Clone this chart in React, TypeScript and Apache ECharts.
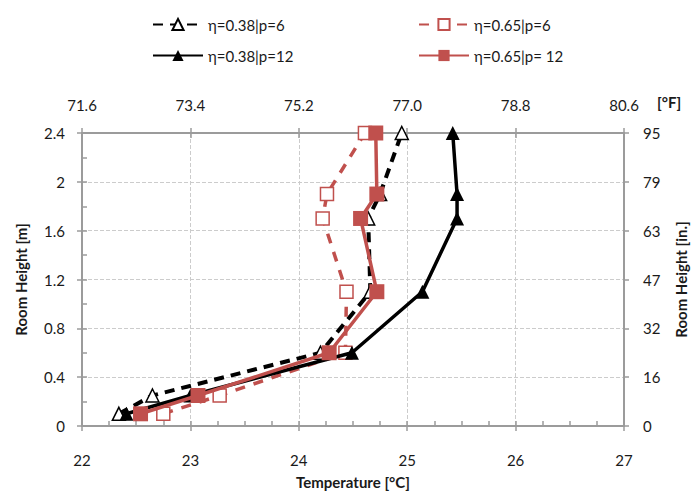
import React, { useEffect, useRef } from "react";
import * as echarts from "echarts";

const heights = [0.1, 0.25, 0.6, 1.1, 1.7, 1.9, 2.4];
const t038p6 = [22.34, 22.65, 24.2, 24.66, 24.64, 24.75, 24.95];
const t065p6 = [22.75, 23.27, 24.43, 24.44, 24.22, 24.26, 24.61];
const t038p12 = [22.41, 23.0, 24.49, 25.14, 25.46, 25.46, 25.42];
const t065p12 = [22.54, 23.07, 24.28, 24.72, 24.57, 24.72, 24.71];

const seriesNames = ["η=0.38|p=6", "η=0.65|p=6", "η=0.38|p=12", "η=0.65|p= 12"];
const topLabels = ["71.6", "73.4", "75.2", "77.0", "78.8", "80.6"]; // °F for 22..27 °C
const rightLabels = ["0", "16", "32", "47", "63", "79", "95"]; // inches for 0..2.4 m

const RED = "#C0504D";
const AXIS = "#9b9b9b";
const GRID = "#cccccc";
const TXT = "#1a1a1a";
const FONT = "Lato, 'Noto Sans', sans-serif";

const pairs = (xs: number[]) => xs.map((x, i) => [x, heights[i]]);

export default function App() {
  const ref = useRef<HTMLDivElement>(null);
  useEffect(() => {
    if (!ref.current) return;
    const chart = echarts.init(ref.current, null, { renderer: "svg" });
    const labelStyle = { color: TXT, fontSize: 15, fontFamily: FONT };
    const nameStyle = { color: TXT, fontSize: 15, fontFamily: FONT, fontWeight: "bold" as const };
    const tickStyle = { color: AXIS, width: 1.5 };
    const baseX = { type: "value" as const, min: 22, max: 27, interval: 1 };
    const baseY = { type: "value" as const, min: 0, max: 2.4, interval: 0.4 };
    chart.setOption({
      animation: false,
      backgroundColor: "#fff",
      textStyle: { fontFamily: FONT },
      grid: {
        left: 82,
        right: 67,
        top: 133,
        bottom: 68,
        containLabel: false,
        outerBoundsMode: "none",
      },
      legend: [
        {
          data: [seriesNames[0], seriesNames[2]],
          orient: "vertical",
          left: 147,
          top: 12,
          itemWidth: 50,
          itemHeight: 14,
          itemGap: 16,
          textStyle: { color: TXT, fontSize: 15, fontFamily: FONT },
        },
        {
          data: [seriesNames[1], seriesNames[3]],
          orient: "vertical",
          left: 413,
          top: 12,
          itemWidth: 50,
          itemHeight: 14,
          itemGap: 16,
          textStyle: { color: TXT, fontSize: 15, fontFamily: FONT },
        },
      ],
      xAxis: [
        {
          ...baseX,
          position: "bottom",
          axisLine: { show: true, onZero: false, lineStyle: { color: AXIS, width: 2 } },
          axisTick: { show: true, inside: false, length: 5, lineStyle: tickStyle },
          axisLabel: { ...labelStyle, margin: 26 },
          splitLine: { show: true, lineStyle: { color: GRID, type: "dashed", width: 1 } },
          name: "Temperature [°C]",
          nameLocation: "middle",
          nameGap: 48,
          nameTextStyle: nameStyle,
        },
        {
          ...baseX,
          position: "bottom",
          axisLine: { show: false, onZero: false },
          axisTick: { show: true, inside: true, length: 5, lineStyle: tickStyle },
          minorTick: { show: true, splitNumber: 4, length: 5, lineStyle: tickStyle },
          axisLabel: { show: false },
          splitLine: { show: false },
        },
        {
          ...baseX,
          position: "top",
          axisLine: { show: true, onZero: false, lineStyle: { color: AXIS, width: 2 } },
          axisTick: { show: true, inside: false, length: 5, lineStyle: tickStyle },
          axisLabel: {
            ...labelStyle,
            margin: 21,
            formatter: (v: number) => topLabels[Math.round(v - 22)] ?? "",
          },
          splitLine: { show: false },
        },
        {
          ...baseX,
          position: "top",
          axisLine: { show: false, onZero: false },
          axisTick: { show: true, inside: true, length: 5, lineStyle: tickStyle },
          axisLabel: { show: false },
          splitLine: { show: false },
        },
      ],
      yAxis: [
        {
          ...baseY,
          position: "left",
          axisLine: { show: true, onZero: false, lineStyle: { color: AXIS, width: 2 } },
          axisTick: { show: true, inside: false, length: 5, lineStyle: tickStyle },
          axisLabel: { ...labelStyle, margin: 17 },
          splitLine: { show: true, lineStyle: { color: GRID, type: "dashed", width: 1 } },
          name: "Room Height [m]",
          nameLocation: "middle",
          nameRotate: 90,
          nameGap: 54,
          nameTextStyle: nameStyle,
        },
        {
          ...baseY,
          position: "left",
          axisLine: { show: false, onZero: false },
          axisTick: { show: true, inside: true, length: 5, lineStyle: tickStyle },
          minorTick: { show: true, splitNumber: 2, length: 5, lineStyle: tickStyle },
          axisLabel: { show: false },
          splitLine: { show: false },
        },
        {
          ...baseY,
          position: "right",
          axisLine: { show: true, onZero: false, lineStyle: { color: AXIS, width: 2 } },
          axisTick: { show: true, inside: false, length: 5, lineStyle: tickStyle },
          axisLabel: {
            ...labelStyle,
            margin: 19,
            formatter: (v: number) => rightLabels[Math.round(v / 0.4)] ?? "",
          },
          splitLine: { show: false },
          name: "Room Height [in.]",
          nameLocation: "middle",
          nameRotate: 90,
          nameGap: 49,
          nameTextStyle: nameStyle,
        },
      ],
      graphic: [
        {
          type: "text",
          left: 657,
          top: 94,
          style: { text: "[°F]", fill: TXT, font: `bold 15px ${FONT}` },
        },
      ],
      series: [
        {
          name: seriesNames[0],
          type: "line",
          data: pairs(t038p6),
          symbol: "triangle",
          symbolSize: 13,
          lineStyle: { color: "#000", width: 4, type: [10, 7] },
          itemStyle: { color: "#fff", borderColor: "#000", borderWidth: 1.5 },
          z: 2,
        },
        {
          name: seriesNames[1],
          type: "line",
          data: pairs(t065p6),
          symbol: "rect",
          symbolSize: 13,
          lineStyle: { color: RED, width: 3.5, type: [10, 9] },
          itemStyle: { color: "#fff", borderColor: RED, borderWidth: 1.5 },
          z: 3,
        },
        {
          name: seriesNames[2],
          type: "line",
          data: pairs(t038p12),
          symbol: "triangle",
          symbolSize: 14,
          lineStyle: { color: "#000", width: 3.5 },
          itemStyle: { color: "#000" },
          z: 4,
        },
        {
          name: seriesNames[3],
          type: "line",
          data: pairs(t065p12),
          symbol: "rect",
          symbolSize: 15,
          lineStyle: { color: RED, width: 3.5 },
          itemStyle: { color: RED },
          z: 5,
        },
      ],
    });
    return () => chart.dispose();
  }, []);
  return <div ref={ref} style={{ width: 691, height: 494, position: "absolute", left: 0, top: 0 }} />;
}
